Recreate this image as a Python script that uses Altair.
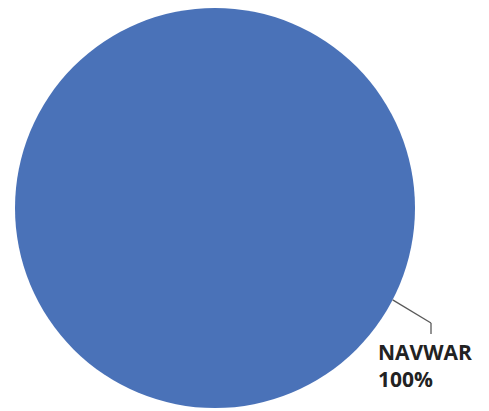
import altair as alt
import pandas as pd
import math

categories = ["NAVWAR"]
values = [100]

df = pd.DataFrame({"category": categories, "value": values})
df["pct"] = (df["value"] / df["value"].sum() * 100).round(0).astype(int).astype(str) + "%"
df["label"] = df["category"] + "\n" + df["pct"]

W, H = 473, 395
cx, cy, R = 207, 199, 200

pie = alt.Chart(df).mark_arc(outerRadius=R, stroke=None).encode(
    theta=alt.Theta("value:Q", stack=True),
    color=alt.Color("category:N", scale=alt.Scale(range=["#4a72b8"]), legend=None),
    x=alt.value(cx),
    y=alt.value(cy),
)

# leader line geometry
ang = math.atan2(92, 178)
sx, sy = cx + R * math.cos(ang), cy + R * math.sin(ang)
ex, ey = 423, 314
fy = 325

lead1 = alt.Chart(df).mark_rule(color="#595959", strokeWidth=1.3).encode(
    x=alt.value(sx), y=alt.value(sy), x2=alt.value(ex), y2=alt.value(ey)
)
lead2 = alt.Chart(df).mark_rule(color="#595959", strokeWidth=1.3).encode(
    x=alt.value(ex), y=alt.value(ey), x2=alt.value(ex), y2=alt.value(fy)
)

txt = alt.Chart(df).mark_text(
    align="left", baseline="alphabetic", font="Open Sans", fontWeight="bold",
    fontSize=21, color="#222222", lineBreak="\n", lineHeight=27
).encode(text="label:N", x=alt.value(370), y=alt.value(351))

chart = alt.layer(pie, lead1, lead2, txt).properties(
    width=W, height=H, padding=0
).configure_view(stroke=None)

chart.save("out.html", embed_options={"renderer": "svg", "actions": False})
